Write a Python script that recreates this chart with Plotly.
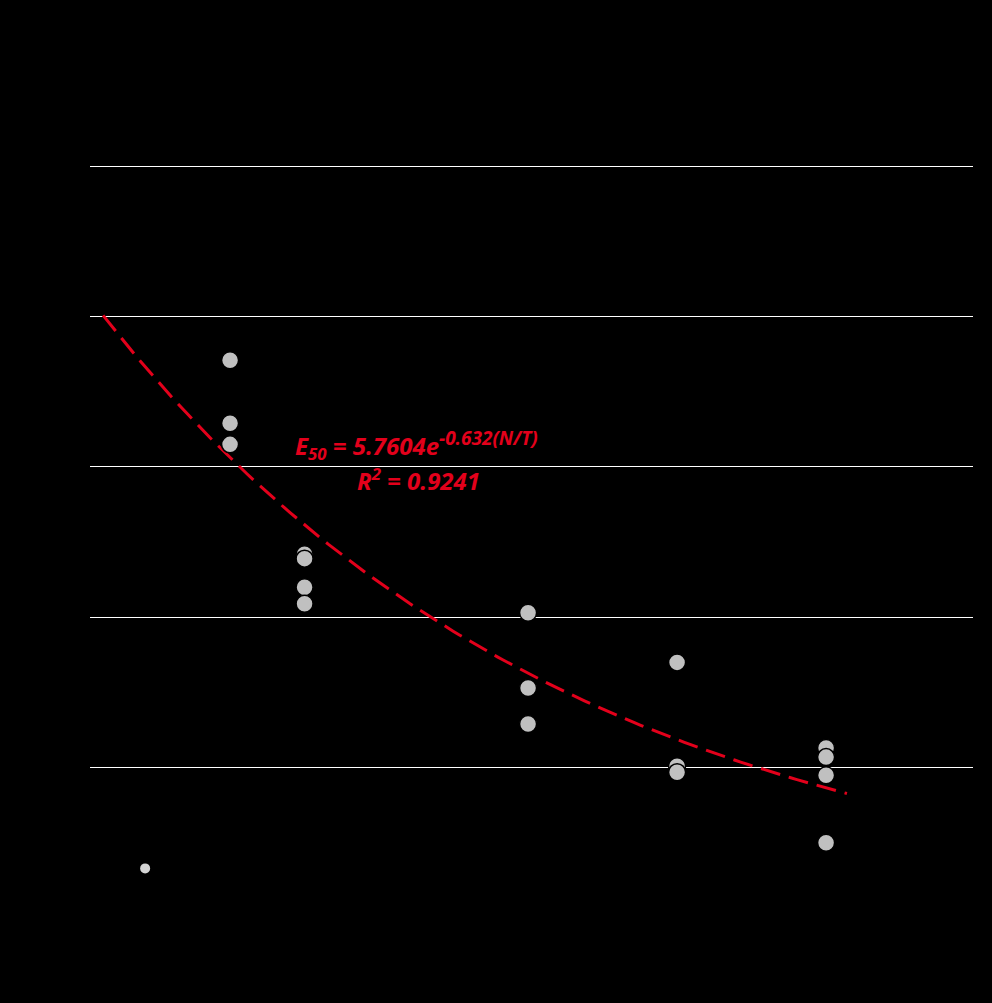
import numpy as np
import plotly.graph_objects as go

# measured E50 values grouped by N/T ratio
nt_main = [1.0, 1.0, 1.0,
           1.25, 1.25, 1.25, 1.25,
           2.0, 2.0, 2.0,
           2.5, 2.5, 2.5,
           3.0, 3.0, 3.0, 3.0]
e50_main = [3.71, 3.29, 3.15,
            2.42, 2.39, 2.20, 2.09,
            2.03, 1.53, 1.29,
            1.70, 1.01, 0.97,
            1.13, 1.07, 0.95, 0.50]

# single low point at the left
nt_low = [0.715]
e50_low = [0.33]

# exponential fit E50 = a * exp(b * N/T)
fit_a = 5.7604
fit_b = -0.632
fit_r2 = 0.9241
fit_start, fit_end = 0.574, 3.07

x_fit = np.linspace(fit_start, fit_end, 120)
y_fit = fit_a * np.exp(fit_b * x_fit)

fig = go.Figure()

fig.add_trace(go.Scatter(x=x_fit, y=y_fit, mode='lines',
                         line=dict(color='#e3001b', width=3, dash='20px,9px'),
                         showlegend=False, hoverinfo='skip'))

fig.add_trace(go.Scatter(x=nt_main, y=e50_main, mode='markers',
                         marker=dict(size=17, color='#c0c0c0',
                                     line=dict(color='#000000', width=1.5)),
                         showlegend=False))

fig.add_trace(go.Scatter(x=nt_low, y=e50_low, mode='markers',
                         marker=dict(size=10, color='#d4d4d4',
                                     line=dict(color='#000000', width=0)),
                         showlegend=False))

red_font = dict(family='Open Sans, Liberation Sans, sans-serif', size=24, color='#e3001b')

fig.add_annotation(x=0.370, y=0.628, xref='paper', yref='paper',
                   text='<b><i>E<sub>50</sub> = 5.7604e<sup><span style="font-size:19px">'
                        '-0.632(N/T)</span></sup></i></b>',
                   showarrow=False, font=red_font, xanchor='center', yanchor='middle')
fig.add_annotation(x=0.372, y=0.583, xref='paper', yref='paper',
                   text='<b><i>R<sup>2</sup> = ' + str(fit_r2) + '</i></b>',
                   showarrow=False, font=red_font, xanchor='center', yanchor='middle')

fig.update_layout(width=992, height=1003,
                  paper_bgcolor='#000000', plot_bgcolor='#000000',
                  margin=dict(l=90, r=19, t=165, b=85),
                  font=dict(family='Liberation Sans, Arial, sans-serif', color='#000000'),
                  showlegend=False)

fig.update_xaxes(range=[0.530, 3.493], showgrid=False, zeroline=False,
                 showline=False, tickfont=dict(color='#000000'),
                 title=dict(text='N/T', font=dict(color='#000000')))
fig.update_yaxes(range=[0, 5.008], tickvals=[1, 2, 3, 4, 5], showgrid=True,
                 gridcolor='#ffffff', gridwidth=1.3, zeroline=False,
                 showline=False, tickfont=dict(color='#000000'),
                 title=dict(text='E<sub>50</sub>', font=dict(color='#000000')))

fig.write_html('out.html', config={'displayModeBar': False},
               post_script="document.body.style.margin='0';"
                           "document.body.style.background='#000';")
